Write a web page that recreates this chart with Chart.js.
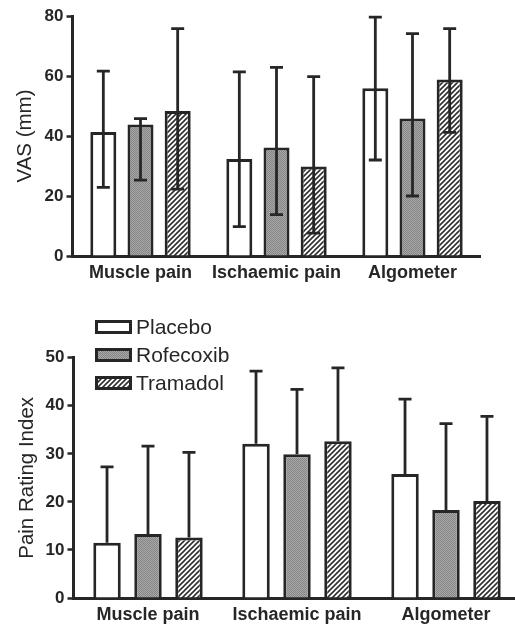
<!DOCTYPE html>
<html>
<head>
<meta charset="utf-8">
<script src="https://cdn.jsdelivr.net/npm/chart.js@4.4.1/dist/chart.umd.min.js"></script>
<style>
  html, body { margin: 0; padding: 0; background: #fff; overflow: hidden; width: 515px; height: 626px; }
  #vasBox { position: absolute; left: 0; top: 0; width: 515px; height: 300px; }
  #priBox { position: absolute; left: 0; top: 300px; width: 530px; height: 326px; }
</style>
</head>
<body>
<div id="vasBox"><canvas id="vasChart" width="515" height="300"></canvas></div>
<div id="priBox"><canvas id="priChart" width="530" height="326"></canvas></div>
<script>
// Categories and treatments
const categories = ['Muscle pain', 'Ischaemic pain', 'Algometer'];
const treatments = ['Placebo', 'Rofecoxib', 'Tramadol'];

// VAS (mm): bar values with upper and lower whisker ends
const vasPlacebo = [41.3, 32.3, 55.9];
const vasPlaceboUpper = [61.6, 61.4, 79.6];
const vasPlaceboLower = [22.9, 9.8, 32.0];
const vasRofecoxib = [43.8, 36.2, 45.8];
const vasRofecoxibUpper = [45.8, 62.9, 74.1];
const vasRofecoxibLower = [25.3, 13.8, 20.0];
const vasTramadol = [48.3, 29.8, 58.8];
const vasTramadolUpper = [75.8, 59.8, 75.8];
const vasTramadolLower = [22.3, 7.6, 41.2];
const vasTicks = [0, 20, 40, 60, 80];

// Pain Rating Index: bar values with upper whisker ends
const priPlacebo = [11.5, 32.1, 25.8];
const priPlaceboUpper = [27.3, 47.2, 41.4];
const priRofecoxib = [13.3, 29.9, 18.3];
const priRofecoxibUpper = [31.6, 43.4, 36.3];
const priTramadol = [12.6, 32.6, 20.2];
const priTramadolUpper = [30.3, 47.9, 37.8];
const priTicks = [0, 10, 20, 30, 40, 50];

const INK = '#262626';
Chart.defaults.font.family = '"Liberation Sans", Arial, Helvetica, sans-serif';
Chart.defaults.color = INK;

// Fill patterns: white, grey stipple, diagonal hatch
function stipple() {
  const c = document.createElement('canvas');
  c.width = 2; c.height = 2;
  const g = c.getContext('2d');
  g.fillStyle = '#a8a8a8'; g.fillRect(0, 0, 2, 2);
  g.fillStyle = '#858585'; g.fillRect(0, 0, 1, 1); g.fillRect(1, 1, 1, 1);
  return g.createPattern(c, 'repeat');
}
function hatch() {
  const s = 5;
  const c = document.createElement('canvas');
  c.width = s; c.height = s;
  const g = c.getContext('2d');
  g.fillStyle = '#ffffff'; g.fillRect(0, 0, s, s);
  g.strokeStyle = '#303030'; g.lineWidth = 1.6;
  g.beginPath();
  g.moveTo(-1, s + 1); g.lineTo(s + 1, -1);
  g.moveTo(-1, 1); g.lineTo(1, -1);
  g.moveTo(s - 1, s + 1); g.lineTo(s + 1, s - 1);
  g.stroke();
  return g.createPattern(c, 'repeat');
}
const fills = ['#ffffff', stipple(), hatch()];

// Whiskers drawn from each dataset's upper/lower arrays
const errorBars = {
  id: 'errorBars',
  afterDatasetsDraw(chart, args, opts) {
    const { ctx } = chart;
    const y = chart.scales.y;
    ctx.save();
    ctx.strokeStyle = INK;
    ctx.lineWidth = 2.8;
    chart.data.datasets.forEach((ds, i) => {
      chart.getDatasetMeta(i).data.forEach((bar, j) => {
        const x = bar.x;
        const yHi = y.getPixelForValue(ds.upper[j]);
        const yLo = ds.lower ? y.getPixelForValue(ds.lower[j]) : bar.y;
        ctx.beginPath();
        ctx.moveTo(x, yLo); ctx.lineTo(x, yHi);
        ctx.moveTo(x - opts.cap, yHi); ctx.lineTo(x + opts.cap, yHi);
        if (ds.lower) { ctx.moveTo(x - opts.cap, yLo); ctx.lineTo(x + opts.cap, yLo); }
        ctx.stroke();
      });
    });
    ctx.restore();
  }
};

// Legend box list drawn over the upper left of the PRI panel
const boxLegend = {
  id: 'boxLegend',
  afterDraw(chart, args, opts) {
    if (!opts.show) return;
    const { ctx } = chart;
    ctx.save();
    chart.data.datasets.forEach((ds, i) => {
      const cy = opts.y + i * opts.step;
      ctx.fillStyle = ds.backgroundColor;
      ctx.fillRect(opts.x, cy - opts.h / 2, opts.w, opts.h);
      ctx.strokeStyle = INK;
      ctx.lineWidth = 3;
      ctx.strokeRect(opts.x + 1.5, cy - opts.h / 2 + 1.5, opts.w - 3, opts.h - 3);
      ctx.fillStyle = INK;
      ctx.font = '21px "Liberation Sans", Arial, sans-serif';
      ctx.textBaseline = 'middle';
      ctx.fillText(ds.label, opts.x + opts.w + 4, cy + 1);
    });
    ctx.restore();
  }
};

function datasets(values, uppers, lowers, bp) {
  return treatments.map((t, i) => ({
    label: t,
    data: values[i],
    upper: uppers[i],
    lower: lowers ? lowers[i] : null,
    backgroundColor: fills[i],
    borderColor: INK,
    borderWidth: 3,
    borderSkipped: 'start',
    barPercentage: bp.bar,
    categoryPercentage: bp.cat
  }));
}

function makeChart(id, cfg) {
  return new Chart(document.getElementById(id), {
    type: 'bar',
    data: {
      labels: categories,
      datasets: datasets(cfg.values, cfg.uppers, cfg.lowers, cfg.bp)
    },
    options: {
      responsive: false,
      animation: false,
      layout: { padding: cfg.padding },
      plugins: {
        legend: { display: false },
        tooltip: { enabled: false },
        errorBars: { cap: 6.5 },
        boxLegend: cfg.legend
      },
      scales: {
        x: {
          z: 1,
          grid: { display: false, drawTicks: false },
          border: { display: true, width: 3, color: INK },
          ticks: { font: { size: 18, weight: 'bold' }, color: INK, padding: 6 },
          afterFit: s => { s.height = cfg.xHeight; }
        },
        y: {
          min: cfg.ticks[0],
          max: cfg.ticks[cfg.ticks.length - 1],
          afterBuildTicks: s => { s.ticks = cfg.ticks.map(v => ({ value: v })); },
          grid: { display: true, drawOnChartArea: false, drawTicks: true, tickLength: 6, tickWidth: 2.5, tickColor: INK },
          border: { display: true, width: 3, color: INK },
          ticks: { font: { size: 17, weight: 'bold' }, color: INK, padding: 3 },
          title: { display: true, text: cfg.title, font: { size: 20.5, lineHeight: 1.2 }, color: INK, padding: { top: cfg.titlePad, bottom: 0 } },
          afterFit: s => { s.width = cfg.yWidth; }
        }
      }
    },
    plugins: [errorBars, boxLegend]
  });
}

makeChart('vasChart', {
  values: [vasPlacebo, vasRofecoxib, vasTramadol],
  uppers: [vasPlaceboUpper, vasRofecoxibUpper, vasTramadolUpper],
  lowers: [vasPlaceboLower, vasRofecoxibLower, vasTramadolLower],
  ticks: vasTicks,
  title: 'VAS (mm)',
  titlePad: 13,
  bp: { bar: 0.70, cat: 0.82 },
  padding: { top: 16, right: 34.5, left: 0, bottom: 0 },
  xHeight: 44,
  yWidth: 72.5,
  legend: { show: false }
});

makeChart('priChart', {
  values: [priPlacebo, priRofecoxib, priTramadol],
  uppers: [priPlaceboUpper, priRofecoxibUpper, priTramadolUpper],
  lowers: null,
  ticks: priTicks,
  title: 'Pain Rating Index',
  titlePad: 15,
  bp: { bar: 0.67, cat: 0.825 },
  padding: { top: 57.7, right: 9.5, left: 0, bottom: 0 },
  xHeight: 28,
  yWidth: 73.5,
  legend: { show: true, x: 95, y: 27, step: 28, w: 37, h: 14 }
});
</script>
</body>
</html>
